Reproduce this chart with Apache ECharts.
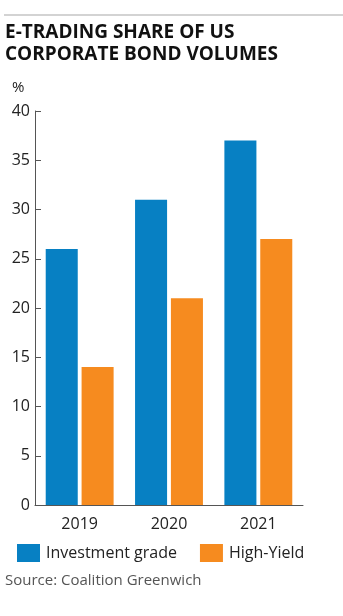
<!DOCTYPE html>
<html><head><meta charset="utf-8">
<script src="https://cdn.jsdelivr.net/npm/echarts@6/dist/echarts.min.js"></script>
<style>html,body{margin:0;padding:0;background:#fff}#c{width:343px;height:616px}</style>
</head><body><div id="c"></div>
<script>
var categories = ['2019', '2020', '2021'];
var investmentGrade = [26, 31, 37];
var highYield = [14, 21, 27];
var seriesNames = ['Investment grade', 'High-Yield'];
var titleText = 'E-TRADING SHARE OF US\nCORPORATE BOND VOLUMES';
var unitText = '%';
var sourceText = 'Source: Coalition Greenwich';

var FONT = '"Open Sans", sans-serif';
var chart = echarts.init(document.getElementById('c'), null, {renderer: 'canvas'});
chart.setOption({
  animation: false,
  backgroundColor: '#fff',
  title: {
    text: titleText, left: 0, top: 17,
    textStyle: {fontFamily: FONT, fontWeight: 'bold', fontSize: 19, lineHeight: 22, color: '#111'}
  },
  graphic: [
    {type: 'line', shape: {x1: 4, y1: 15, x2: 343, y2: 15}, style: {stroke: '#c4c4c4', lineWidth: 1.5}},
    {type: 'text', left: 12, top: 80, style: {text: unitText, font: '15px ' + FONT, fill: '#222'}},
    {type: 'text', left: 5, top: 573, style: {text: sourceText, font: '15px ' + FONT, fill: '#555'}}
  ],
  legend: {
    left: 12, top: 539, itemWidth: 23, itemHeight: 18, itemGap: 23,
    icon: 'rect',
    textStyle: {fontFamily: FONT, fontSize: 16, color: '#222', padding: [0, 0, 0, 1]},
    data: seriesNames
  },
  grid: {left: 35, right: 40, top: 111, bottom: 111, containLabel: false},
  xAxis: {
    type: 'category', data: categories,
    axisLine: {lineStyle: {color: '#555', width: 1}},
    axisTick: {show: false},
    axisLabel: {fontFamily: FONT, fontSize: 16, color: '#222', margin: 11}
  },
  yAxis: {
    type: 'value', min: 0, max: 40, interval: 5,
    axisLine: {show: true, lineStyle: {color: '#555', width: 1}},
    axisTick: {show: true, inside: true, length: 6, lineStyle: {color: '#555'}},
    splitLine: {show: false},
    axisLabel: {fontFamily: FONT, fontSize: 16, color: '#222', margin: 5}
  },
  series: [
    {name: seriesNames[0], type: 'bar', data: investmentGrade, barGap: '12%', barCategoryGap: '24%',
     itemStyle: {color: '#0780c3'}},
    {name: seriesNames[1], type: 'bar', data: highYield,
     itemStyle: {color: '#f68b1f'}}
  ]
});
</script></body></html>
